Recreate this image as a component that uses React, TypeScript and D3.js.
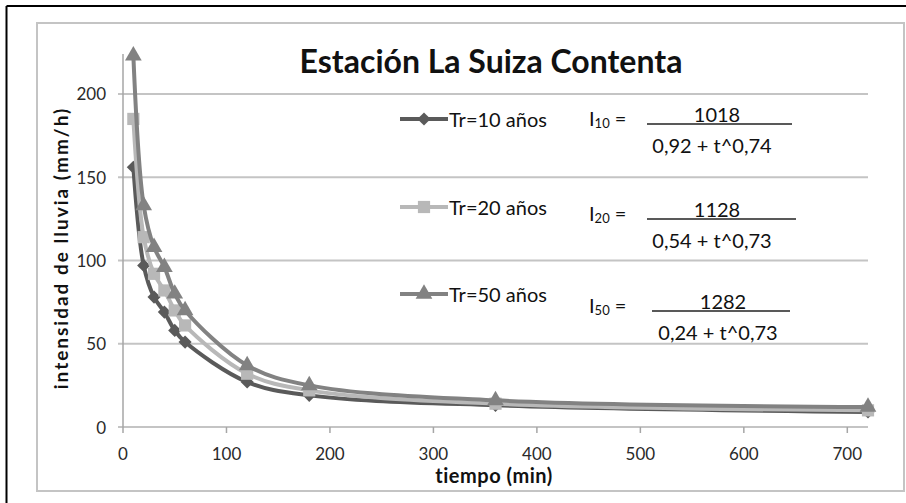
import * as d3 from "d3";

const times = [10, 20, 30, 40, 50, 60, 120, 180, 360, 720];
const tr10 = [156, 97, 78, 69, 58, 51, 27, 19, 13, 9];
const tr20 = [185, 114, 92, 82, 70, 61, 32, 22, 14, 10];
const tr50 = [223, 133, 108, 96, 80, 70, 37, 25, 16, 12];
const xTicks = [0, 100, 200, 300, 400, 500, 600, 700];
const yTicks = [0, 50, 100, 150, 200];

const seriesNames = ["Tr=10 años", "Tr=20 años", "Tr=50 años"];
const formulaSubs = ["10", "20", "50"];
const formulaNums = ["1018", "1128", "1282"];
const formulaDens = ["0,92 + t^0,74", "0,54 + t^0,73", "0,24 + t^0,73"];

const FONT = "Lato, 'Open Sans', sans-serif";

export default function App() {
  const width = 906;
  const height = 503;
  const margin = { left: 123, right: 38, top: 54, bottom: 76 };

  const x = d3.scaleLinear().domain([0, 720]).range([margin.left, width - margin.right]);
  const y = d3.scaleLinear().domain([0, 224]).range([height - margin.bottom, margin.top]);

  const series = [
    { name: seriesNames[0], values: tr10, color: "#5a5a5a", symbol: d3.symbolDiamond2, size: 110 },
    { name: seriesNames[1], values: tr20, color: "#b8b8b8", symbol: d3.symbolSquare2, size: 190 },
    { name: seriesNames[2], values: tr50, color: "#828282", symbol: d3.symbolTriangle2, size: 200 },
  ];

  const line = d3
    .line<number>()
    .x((_, i) => x(times[i]))
    .y((d) => y(d))
    .curve(d3.curveCatmullRom.alpha(0.5));

  const legendY = [119, 207, 294];
  const formY = [118, 213, 305];

  return (
    <svg
      width={width}
      height={height}
      style={{ position: "absolute", left: 0, top: 0, background: "#fff" }}
      fontFamily={FONT}
    >
      {/* outer black border */}
      <line x1={6.5} y1={6} x2={width} y2={6} stroke="#000" strokeWidth={2} />
      <line x1={6.5} y1={6} x2={6.5} y2={height} stroke="#000" strokeWidth={2} />

      {/* chart frame */}
      <rect x={37} y={23} width={867} height={468} fill="#fff" stroke="#c4c4c4" strokeWidth={2} />

      {/* gridlines */}
      {yTicks.map((t) => (
        <line
          key={"g" + t}
          x1={x(0) - 5}
          x2={x(720)}
          y1={y(t)}
          y2={y(t)}
          stroke="#c4c4c4"
          strokeWidth={2}
        />
      ))}
      {/* y axis */}
      <line x1={x(0)} x2={x(0)} y1={y(0)} y2={y(224)} stroke="#a6a6a6" strokeWidth={1.5} />
      {/* x ticks */}
      {xTicks.map((t) => (
        <line key={"xt" + t} x1={x(t)} x2={x(t)} y1={y(0)} y2={y(0) + 6} stroke="#a6a6a6" strokeWidth={1.5} />
      ))}

      {/* tick labels */}
      {yTicks.map((t) => (
        <text key={"yl" + t} x={x(0) - 17} y={y(t)} textAnchor="end" dominantBaseline="central" fontSize={17} fill="#2a2a2a">
          {t}
        </text>
      ))}
      {xTicks.map((t) => (
        <text key={"xl" + t} x={x(t)} y={y(0) + 26} textAnchor="middle" dominantBaseline="central" fontSize={17} fill="#2a2a2a">
          {t}
        </text>
      ))}

      {/* axis titles */}
      <text x={494} y={475} textAnchor="middle" dominantBaseline="central" fontSize={20} fontWeight="bold" letterSpacing={0.5} fill="#111">
        tiempo (min)
      </text>
      <text
        transform={`translate(60,248) rotate(-90)`}
        textAnchor="middle"
        dominantBaseline="central"
        fontSize={19}
        fontWeight="bold"
        letterSpacing={2}
        fill="#111"
      >
        intensidad de lluvia (mm/h)
      </text>

      {/* title */}
      <text x={491} y={60} textAnchor="middle" dominantBaseline="central" fontSize={32} fontWeight="bold" fill="#111">
        Estación La Suiza Contenta
      </text>

      {/* series */}
      {series.map((s) => (
        <g key={s.name}>
          <path d={line(s.values) ?? ""} fill="none" stroke={s.color} strokeWidth={4} />
          {s.values.map((v, i) => (
            <path
              key={i}
              d={d3.symbol().type(s.symbol).size(s.size)() ?? ""}
              transform={`translate(${x(times[i])},${y(v)})`}
              fill={s.color}
            />
          ))}
        </g>
      ))}

      {/* legend */}
      {series.map((s, i) => (
        <g key={"lg" + s.name}>
          <line x1={400} x2={448} y1={legendY[i]} y2={legendY[i]} stroke={s.color} strokeWidth={4} />
          <path
            d={d3.symbol().type(s.symbol).size(s.size)() ?? ""}
            transform={`translate(424,${legendY[i]})`}
            fill={s.color}
          />
          <text x={449} y={legendY[i]} dominantBaseline="central" fontSize={20} fill="#111">
            {s.name}
          </text>
        </g>
      ))}

      {/* formulas */}
      {formulaNums.map((n, i) => {
        const fy = formY[i];
        const lineX1 = i === 2 ? 652 : 647;
        const lineX2 = i === 1 ? 796 : i === 2 ? 790 : 792;
        const numX = i === 2 ? 723 : 717;
        const denX = i === 2 ? 718 : 712;
        return (
          <g key={"f" + n} fill="#111" fontSize={20}>
            <text x={589} y={fy} dominantBaseline="central">
              I
              <tspan fontSize={13} dy={5}>{formulaSubs[i]}</tspan>
              <tspan dy={-5}>{" ="}</tspan>
            </text>
            <line x1={lineX1} x2={lineX2} y1={fy + 6} y2={fy + 6} stroke="#222" strokeWidth={1.3} />
            <text x={numX} y={fy - 4} textAnchor="middle" dominantBaseline="central">
              {n}
            </text>
            <text x={denX} y={fy + 27} textAnchor="middle" dominantBaseline="central">
              {formulaDens[i]}
            </text>
          </g>
        );
      })}
    </svg>
  );
}
